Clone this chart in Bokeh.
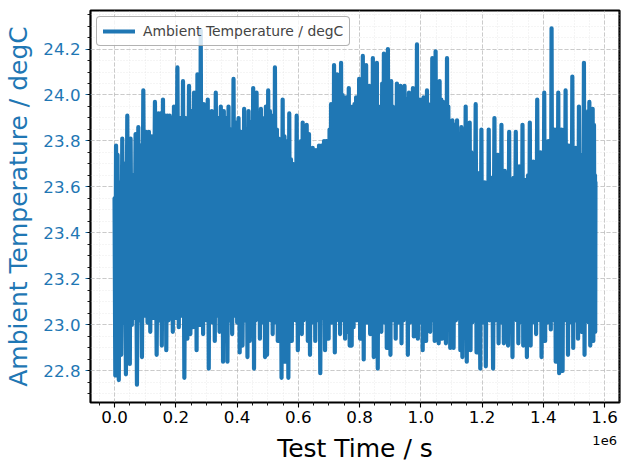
from bokeh.plotting import figure
from bokeh.models import Range1d, FixedTicker, Legend, LegendItem, LinearAxis
from bokeh.embed import file_html
from bokeh.resources import INLINE

# ---- data (time in thousands of seconds, temperature in degC) ----
peak_time_ks = [
    0.0, 4.9, 9.8, 18.0, 25.2, 32.7, 41.6, 47.4, 52.4, 60.5,
    68.7, 77.6, 85.1, 93.9, 103.1, 112.2, 121.1, 131.9, 143.0, 150.5,
    158.1, 165.3, 172.5, 180.0, 186.5, 194.0, 205.2, 214.3, 223.5, 232.3,
    243.1,
    252.0, 259.5, 265.1, 270.6, 276.5, 281.4, 287.0, 291.2, 297.8, 304.3,
    310.9, 317.4, 324.0, 330.5, 338.7, 346.9, 351.8, 356.7, 364.9, 372.1,
    379.6, 388.4, 395.9, 404.8, 412.3, 423.1, 430.3, 437.5, 445.0, 452.6,
    458.1, 463.7, 471.2, 477.8, 484.3, 488.5, 494.1, 501.6,
    507.2, 513.8, 518.7, 523.6, 530.1, 535.7, 541.6, 548.8, 554.7, 559.6,
    564.5, 570.4, 575.9, 581.5, 587.4, 594.6, 602.1, 608.6, 614.2, 620.1,
    627.3, 634.8, 641.4, 646.9, 652.8, 657.7, 662.6, 667.5, 675.7, 683.9,
    690.5, 696.0, 701.9, 706.8, 711.7, 716.6, 721.6, 726.5, 733.0, 739.5,
    744.5, 749.4, 755.9, 764.7,
    770.6, 777.8, 783.1, 788.6, 793.5, 798.4, 805.0, 810.5, 816.4, 821.3,
    826.3, 831.2, 837.7, 843.3, 849.2, 856.4, 862.2, 868.1, 873.7, 879.3,
    885.1, 892.4, 898.2, 903.2, 908.1, 914.0, 921.8, 927.7, 933.6, 940.1,
    946.7, 953.9, 961.1, 967.0, 974.1, 980.0, 987.3, 993.1, 998.1, 1003.0,
    1008.9, 1014.4, 1020.0,
    1024.2, 1028.5, 1032.4, 1037.3, 1042.2, 1048.1, 1055.3, 1061.2, 1066.8, 1072.3,
    1078.2, 1085.4, 1089.7, 1093.9, 1097.9, 1102.8, 1110.9, 1118.1, 1125.7, 1132.2,
    1138.8, 1146.3, 1153.5, 1159.4, 1164.9, 1170.5, 1179.0, 1184.6, 1190.2, 1197.7,
    1202.6, 1208.5, 1215.7, 1221.6, 1227.1, 1231.4, 1240.2, 1245.1, 1251.0, 1256.6,
    1263.1, 1268.0, 1273.9, 1281.1, 1288.3,
    1292.6, 1295.8, 1302.4, 1309.9, 1315.5, 1321.0, 1326.9, 1331.8, 1336.7, 1342.6,
    1349.8, 1355.7, 1361.3, 1366.8, 1372.7, 1379.9, 1385.8, 1390.7, 1397.3, 1402.8,
    1408.7, 1415.9, 1421.8, 1426.7, 1431.6, 1437.5, 1443.1, 1448.6, 1454.5, 1459.4,
    1466.0, 1472.5, 1477.4, 1483.3, 1488.9, 1494.5, 1500.4, 1505.3, 1510.2, 1516.1,
    1521.6, 1526.5, 1532.4, 1536.4, 1541.3, 1546.2, 1550.1, 1556.0, 1560.9, 1565.2,
    1568.5, 1570.0,
]

peak_temp = [
    23.55, 23.78, 23.74, 23.62, 23.81, 23.70, 23.91, 23.72, 23.81, 23.65,
    23.83, 23.86, 23.78, 24.02, 23.84, 23.84, 23.82, 23.97, 23.92, 23.92,
    23.98, 23.91, 23.91, 23.91, 23.90, 23.95, 24.12, 23.90, 24.06, 23.90,
    24.04,
    23.93, 24.01, 23.95, 24.09, 23.98, 24.28, 23.95, 23.96, 23.93, 23.98,
    23.92, 23.93, 23.85, 24.01, 23.90, 23.95, 23.87, 23.93, 23.90, 23.95,
    23.85, 24.07, 23.88, 23.90, 23.84, 23.94, 23.85, 23.93, 23.88, 24.03,
    23.93, 24.01, 23.88, 23.94, 23.88, 23.90, 23.95, 24.02,
    23.93, 23.91, 23.78, 24.12, 23.85, 23.81, 23.70, 23.98, 23.82, 23.80,
    23.70, 23.92, 23.72, 23.70, 23.68, 23.91, 23.75, 23.80, 23.88, 23.86,
    23.87, 23.83, 23.70, 23.77, 23.72, 23.76, 23.76, 23.78, 23.78, 23.80,
    23.80, 23.80, 23.85, 23.96, 23.96, 24.13, 24.00, 24.09, 23.95, 24.14,
    24.00, 23.98, 23.99, 24.03,
    23.95, 23.86, 23.96, 23.99, 23.99, 24.07, 24.05, 24.17, 24.05, 24.13,
    23.95, 24.04, 23.93, 24.16, 24.00, 24.14, 23.95, 23.93, 24.05, 24.18,
    24.05, 24.20, 24.05, 24.06, 23.95, 23.80, 24.05, 24.00, 24.04, 24.00,
    24.04, 23.98, 24.01, 23.94, 24.03, 23.97, 24.22, 23.96, 23.98, 23.96,
    23.99, 23.95, 24.02,
    23.96, 23.78, 23.94, 24.16, 24.13, 24.19, 24.05, 24.06, 23.98, 23.97,
    23.86, 24.16, 23.95, 23.74, 23.88, 23.89, 23.87, 23.89, 23.83, 23.86,
    23.74, 23.95, 23.80, 23.88, 23.75, 23.69, 23.96, 23.62, 23.66, 23.85,
    23.60, 23.62, 23.61, 23.85, 23.60, 23.64, 23.90, 23.62, 23.74, 23.62,
    23.87, 23.60, 23.67, 23.62, 23.84,
    23.62, 23.62, 23.64, 23.84, 23.65, 23.69, 23.66, 23.87, 23.63, 23.63,
    23.65, 23.88, 23.68, 23.71, 23.70, 23.98, 23.72, 23.75, 23.74, 24.01,
    23.78, 23.80, 23.78, 24.29, 23.80, 23.85, 23.80, 24.01, 23.80, 23.85,
    23.80, 24.02, 23.78, 23.78, 23.76, 24.08, 23.76, 23.77, 23.74, 23.95,
    23.74, 23.74, 24.14, 23.76, 23.75, 23.93, 23.97, 23.93, 23.94, 23.87,
    23.65, 23.62,
]

# minimum reached after each peak, before the next one
trough_temp = [
    22.78, 23.02, 22.76, 22.87, 23.01, 22.785, 23.04, 22.83, 23.00, 23.03,
    22.74, 23.02, 22.86, 23.04, 23.01, 22.97, 23.03, 22.87, 23.02, 22.91,
    23.04, 22.89, 23.02, 23.05, 22.97, 23.03, 22.99, 23.04, 22.77, 22.94,
    22.96,
    22.99, 23.03, 22.89, 23.04, 23.00, 23.03, 22.96, 23.04, 23.02, 22.81,
    23.03, 23.01, 22.93, 23.04, 22.97, 23.02, 22.84, 23.03, 22.84, 23.02,
    22.96, 23.04, 23.01, 22.88, 22.91, 23.02, 22.86, 22.93, 23.03, 22.81,
    23.02, 23.04, 22.94, 23.03, 23.01, 22.86, 22.87, 23.03,
    23.02, 22.96, 23.04, 23.01, 22.93, 23.03, 22.77, 23.02, 22.84, 23.03,
    22.77, 23.01, 22.93, 23.04, 23.02, 22.89, 23.03, 22.96, 23.02, 23.04,
    22.93, 22.87, 23.03, 23.01, 22.93, 23.04, 23.02, 22.79, 23.03, 22.89,
    23.02, 22.94, 23.04, 23.01, 23.03, 22.88, 23.02, 23.04, 22.96, 23.02,
    23.03, 22.94, 22.97, 22.91,
    22.91, 22.99, 23.03, 23.02, 23.04, 22.94, 23.02, 22.85, 23.03, 23.01,
    23.04, 22.96, 23.02, 22.86, 23.03, 22.81, 23.02, 22.97, 23.04, 23.01,
    22.90, 23.03, 22.87, 23.02, 23.04, 22.94, 23.01, 23.03, 22.92, 23.02,
    23.04, 22.87, 23.01, 23.03, 22.95, 23.02, 22.94, 23.04, 23.01, 22.89,
    23.03, 22.93, 23.02,
    23.04, 22.97, 23.02, 23.03, 22.93, 23.01, 22.92, 23.04, 22.94, 23.02,
    22.92, 23.03, 23.01, 22.90, 23.04, 22.90, 23.02, 23.03, 22.89, 22.86,
    23.02, 22.84, 23.04, 22.89, 23.01, 23.03, 22.88, 23.02, 22.81, 23.04,
    23.01, 22.82, 23.03, 23.02, 23.04, 22.81, 23.02, 23.03, 22.92, 23.01,
    23.04, 22.92, 23.02, 22.91, 23.03,
    23.01, 22.86, 23.04, 23.02, 22.92, 23.03, 23.01, 22.91, 23.04, 22.86,
    23.02, 22.91, 23.03, 23.01, 22.96, 23.04, 23.02, 22.86, 23.03, 22.93,
    23.01, 23.04, 22.98, 23.02, 23.03, 22.84, 23.01, 22.79, 23.04, 22.80,
    23.02, 23.03, 22.87, 23.01, 23.04, 22.90, 23.02, 23.03, 22.94, 23.01,
    22.97, 23.04, 22.87, 23.02, 23.03, 23.01, 22.91, 23.04, 22.93, 23.02,
    22.97,
]

x_tick_values = [0, 200000, 400000, 600000, 800000, 1000000, 1200000, 1400000, 1600000]
x_tick_labels = ["0.0", "0.2", "0.4", "0.6", "0.8", "1.0", "1.2", "1.4", "1.6"]
y_tick_values = [22.8, 23.0, 23.2, 23.4, 23.6, 23.8, 24.0, 24.2]
y_tick_labels = ["22.8", "23.0", "23.2", "23.4", "23.6", "23.8", "24.0", "24.2"]

series_label = "Ambient Temperature / degC"
x_label = "Test Time / s"
y_label = "Ambient Temperature / degC"
offset_text = "1e6"
offset_at = 1600000

BLUE = "#1f77b4"
FONT = "DejaVu Sans"

# ---- build the trace: peak, then trough halfway to the next peak ----
xs, ys = [], []
n = len(peak_time_ks)
for i in range(n):
    xs.append(peak_time_ks[i] * 1000.0)
    ys.append(peak_temp[i])
    if i < n - 1:
        xs.append((peak_time_ks[i] + peak_time_ks[i + 1]) * 500.0)
        ys.append(trough_temp[i])

t_max = max(xs)
y_lo, y_hi = min(ys), max(ys)
xpad = 0.05 * t_max
ypad = 0.05 * (y_hi - y_lo)

p = figure(width=629, height=470, output_backend="svg", toolbar_location=None,
           title=None,
           x_range=Range1d(-xpad, t_max + xpad),
           y_range=Range1d(y_lo - ypad, y_hi + ypad),
           min_border_left=90, min_border_right=10,
           min_border_top=10, min_border_bottom=68)

p.background_fill_color = "white"
p.border_fill_color = "white"
p.outline_line_color = "black"
p.outline_line_width = 2.2

line = p.line(xs, ys, line_width=4.2, line_color=BLUE,
              line_join="round", line_cap="round")

# ---- axes ----
xax = p.xaxis[0]
yax = p.yaxis[0]
xminor = [k * 50000 for k in range(-1, 34)]
xax.ticker = FixedTicker(ticks=x_tick_values, minor_ticks=xminor)
xax.major_label_overrides = {v: s for v, s in zip(x_tick_values, x_tick_labels)}
yminor = [round(22.65 + 0.05 * k, 2) for k in range(0, 36)]
yax.ticker = FixedTicker(ticks=y_tick_values, minor_ticks=yminor)
yax.major_label_overrides = {v: s for v, s in zip(y_tick_values, y_tick_labels)}

for ax in (xax, yax):
    ax.axis_line_color = None
    ax.major_tick_out = 5
    ax.major_tick_in = 0
    ax.minor_tick_out = 3
    ax.minor_tick_in = 0
    ax.major_tick_line_width = 1.1
    ax.minor_tick_line_width = 0.9
    ax.minor_tick_line_color = "black"
    ax.major_label_text_font = FONT
    ax.major_label_text_font_size = "16.7px"
    ax.axis_label_text_font = FONT
    ax.axis_label_text_font_size = "25px"
    ax.axis_label_text_font_style = "normal"

xax.major_tick_line_color = "black"
xax.major_label_text_color = "black"
xax.major_label_standoff = 3

yax.axis_label = y_label
yax.major_tick_line_color = BLUE
yax.major_label_text_color = BLUE
yax.axis_label_text_color = BLUE
yax.major_label_standoff = 5
yax.axis_label_standoff = 7

# second, tick-less axis below: carries the scale-offset text "1e6" (at the
# last tick) and the x-axis title, pulled up so both share one line
ax2 = LinearAxis(ticker=FixedTicker(ticks=[offset_at], minor_ticks=[]),
                 major_label_overrides={offset_at: offset_text},
                 axis_line_color=None,
                 major_tick_line_color=None, minor_tick_line_color=None,
                 major_tick_out=0, major_tick_in=0,
                 minor_tick_out=0, minor_tick_in=0,
                 major_label_standoff=10,
                 major_label_text_font=FONT, major_label_text_font_size="13px",
                 major_label_text_color="black",
                 axis_label=x_label, axis_label_standoff=-14,
                 axis_label_text_font=FONT, axis_label_text_font_size="25px",
                 axis_label_text_font_style="normal",
                 axis_label_text_color="black")
p.add_layout(ax2, "below")

# ---- grid ----
for g in (p.xgrid[0], p.ygrid[0]):
    g.grid_line_color = "#b0b0b0"
    g.grid_line_alpha = 0.8
    g.grid_line_width = 0.8
    g.grid_line_dash = "4 2"
    g.minor_grid_line_color = "#d5d5d5"
    g.minor_grid_line_alpha = 0.8
    g.minor_grid_line_width = 0.6
    g.minor_grid_line_dash = "1 2"

# ---- legend ----
legend = Legend(items=[LegendItem(label=series_label, renderers=[line])],
                location="top_left", margin=6, padding=6, spacing=0,
                glyph_width=32, glyph_height=12, label_height=12,
                label_standoff=8,
                label_text_font=FONT, label_text_font_size="13.9px",
                border_line_color="#666666", border_line_width=1.5,
                background_fill_color="white", background_fill_alpha=0.8)
if "border_radius" in legend.properties():
    legend.border_radius = 4
p.add_layout(legend)

open("out.html", "w").write(file_html(p, INLINE))
